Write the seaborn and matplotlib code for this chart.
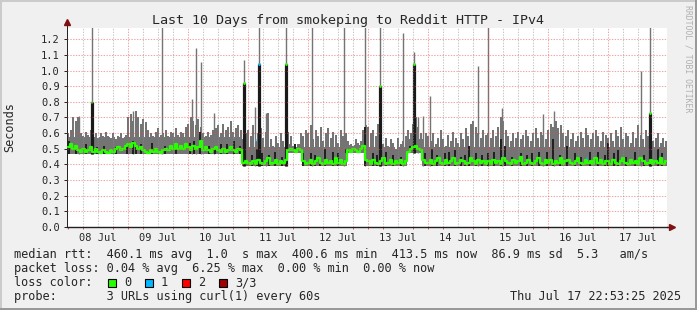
import numpy as np
import pandas as pd
import matplotlib
matplotlib.use("Agg")
import matplotlib.pyplot as plt
import matplotlib.patches as mpatches
import seaborn as sns

# ---------------- data ----------------
day_labels = ["08 Jul", "09 Jul", "10 Jul", "11 Jul", "12 Jul",
              "13 Jul", "14 Jul", "15 Jul", "16 Jul", "17 Jul"]

# hourly upper edge of the smoke (seconds), 24 values per day
smoke_top = [
    0.60, 0.62, 0.70, 0.68, 0.70, 0.60, 0.58, 0.61, 0.59, 0.62, 0.58, 0.60, 0.57, 0.60, 0.58, 0.61, 0.58, 0.57, 0.60, 0.56, 0.58, 0.60, 0.57, 0.59,
    0.70, 0.72, 0.68, 0.74, 0.70, 0.66, 0.69, 0.67, 0.62, 0.60, 0.58, 0.61, 0.63, 0.59, 0.60, 0.62, 0.58, 0.61, 0.60, 0.63, 0.59, 0.61, 0.60, 0.64,
    0.66, 0.70, 0.68, 0.65, 0.69, 0.64, 0.60, 0.58, 0.61, 0.59, 0.62, 0.63, 0.65, 0.60, 0.66, 0.62, 0.64, 0.68, 0.61, 0.63, 0.65, 0.62, 0.56, 0.60,
    0.62, 0.58, 0.65, 0.55, 0.60, 0.63, 0.57, 0.61, 0.73, 0.56, 0.52, 0.58, 0.54, 0.60, 0.55, 0.62, 0.61, 0.58, 0.52, 0.51, 0.53, 0.60, 0.58, 0.62,
    0.60, 0.65, 0.56, 0.62, 0.58, 0.64, 0.55, 0.60, 0.63, 0.57, 0.61, 0.59, 0.54, 0.62, 0.58, 0.60, 0.55, 0.53, 0.52, 0.56, 0.54, 0.55, 0.62, 0.65,
    0.64, 0.60, 0.62, 0.58, 0.66, 0.55, 0.53, 0.57, 0.52, 0.56, 0.54, 0.50, 0.57, 0.53, 0.55, 0.58, 0.62, 0.60, 0.66, 0.70, 0.64, 0.60, 0.56, 0.60,
    0.58, 0.55, 0.60, 0.53, 0.57, 0.62, 0.56, 0.52, 0.59, 0.55, 0.61, 0.57, 0.54, 0.60, 0.56, 0.63, 0.58, 0.66, 0.68, 0.64, 0.60, 0.57, 0.62, 0.59,
    0.60, 0.57, 0.62, 0.58, 0.64, 0.70, 0.68, 0.62, 0.58, 0.55, 0.60, 0.57, 0.61, 0.56, 0.59, 0.62, 0.58, 0.55, 0.60, 0.63, 0.57, 0.61, 0.59, 0.56,
    0.62, 0.66, 0.64, 0.68, 0.63, 0.65, 0.60, 0.58, 0.62, 0.56, 0.60, 0.55, 0.58, 0.61, 0.57, 0.63, 0.59, 0.56, 0.60, 0.62, 0.58, 0.55, 0.61, 0.59,
    0.57, 0.60, 0.55, 0.62, 0.58, 0.64, 0.56, 0.60, 0.58, 0.54, 0.61, 0.57, 0.65, 0.59, 0.56, 0.62, 0.58, 0.60, 0.55, 0.57, 0.60, 0.54, 0.57, 0.55,
]

# hourly median rtt (seconds), 24 values per day
median_rtt = [
    0.51, 0.53, 0.50, 0.52, 0.49, 0.48, 0.50, 0.48, 0.49, 0.51, 0.48, 0.50, 0.48, 0.47, 0.49, 0.48, 0.47, 0.49, 0.48, 0.50, 0.51, 0.49, 0.50, 0.52,
    0.53, 0.51, 0.54, 0.52, 0.50, 0.51, 0.49, 0.48, 0.47, 0.49, 0.48, 0.50, 0.48, 0.47, 0.49, 0.50, 0.49, 0.52, 0.50, 0.53, 0.50, 0.52, 0.50, 0.53,
    0.51, 0.49, 0.52, 0.50, 0.51, 0.55, 0.49, 0.51, 0.49, 0.48, 0.50, 0.51, 0.49, 0.48, 0.50, 0.48, 0.49, 0.51, 0.49, 0.48, 0.50, 0.49, 0.41, 0.42,
    0.41, 0.40, 0.42, 0.40, 0.43, 0.41, 0.40, 0.42, 0.44, 0.40, 0.41, 0.43, 0.40, 0.42, 0.41, 0.43, 0.49, 0.50, 0.49, 0.48, 0.50, 0.49, 0.42, 0.40,
    0.41, 0.43, 0.40, 0.42, 0.44, 0.41, 0.40, 0.43, 0.41, 0.42, 0.40, 0.44, 0.41, 0.43, 0.40, 0.42, 0.49, 0.48, 0.50, 0.49, 0.48, 0.50, 0.52, 0.43,
    0.42, 0.40, 0.43, 0.41, 0.40, 0.42, 0.44, 0.40, 0.41, 0.43, 0.40, 0.42, 0.41, 0.43, 0.40, 0.42, 0.48, 0.50, 0.51, 0.52, 0.50, 0.49, 0.43, 0.41,
    0.41, 0.43, 0.40, 0.42, 0.44, 0.41, 0.40, 0.43, 0.41, 0.42, 0.44, 0.40, 0.41, 0.43, 0.42, 0.40, 0.41, 0.44, 0.42, 0.40, 0.43, 0.41, 0.42, 0.40,
    0.42, 0.40, 0.43, 0.41, 0.42, 0.40, 0.44, 0.42, 0.41, 0.40, 0.43, 0.41, 0.42, 0.45, 0.40, 0.41, 0.43, 0.41, 0.40, 0.42, 0.44, 0.41, 0.40, 0.43,
    0.41, 0.43, 0.40, 0.42, 0.41, 0.44, 0.40, 0.42, 0.43, 0.41, 0.40, 0.42, 0.44, 0.41, 0.40, 0.43, 0.41, 0.42, 0.40, 0.44, 0.41, 0.43, 0.40, 0.42,
    0.42, 0.40, 0.43, 0.41, 0.40, 0.42, 0.44, 0.41, 0.40, 0.43, 0.41, 0.42, 0.40, 0.44, 0.42, 0.40, 0.41, 0.43, 0.40, 0.42, 0.41, 0.44, 0.40, 0.42,
]

# piecewise levels (day offset from 08 Jul 00:00): smoke floor and solid-band top
level_start = [-0.02, 2.89, 3.64, 3.89, 4.64, 4.93, 5.64, 5.89]
level_floor = [0.465, 0.39, 0.475, 0.39, 0.47, 0.39, 0.47, 0.39]
level_band = [0.575, 0.51, 0.53, 0.51, 0.525, 0.51, 0.56, 0.51]

# thin single-ping spikes
spike_day = [0.18, 0.395, 1.08, 1.567, 2.067, 2.133, 2.217, 2.433, 2.933, 3.117,
             3.183, 3.3, 3.633, 4.067, 4.6, 4.95, 5.2, 5.583, 5.767, 5.833,
             5.917, 6.033, 6.833, 7.0, 7.233, 7.917, 8.1, 9.55, 9.7]
spike_max = [0.71, 1.30, 0.74, 1.30, 0.815, 1.147, 1.053, 0.73, 1.07, 0.77,
             1.30, 0.73, 1.30, 1.30, 1.30, 1.30, 1.30, 1.24, 1.12, 0.70,
             0.71, 0.84, 1.03, 1.30, 0.76, 0.72, 0.74, 1.00, 1.30]

# tall dense bursts (median marker at top, loss count)
burst_day = [0.395, 2.933, 3.183, 3.633, 5.2, 5.767, 9.7]
burst_top = [0.80, 0.923, 1.04, 1.04, 0.90, 1.04, 0.73]
burst_loss = [0, 0, 1, 0, 0, 0, 0]

# short dark segments inside the smoke
dark_day = [0.017, 0.14, 0.48, 0.99, 1.09, 1.14, 1.22, 1.62, 2.03, 2.2, 2.45, 2.645,
            2.76, 2.87, 3.06, 3.145, 3.23, 3.56, 3.78, 3.92, 4.12, 4.28, 4.42, 4.64,
            4.95, 5.09, 5.42, 5.7, 6.06, 6.28, 6.45, 6.62, 6.68, 7.0, 7.22, 7.28,
            7.73, 7.98, 8.09, 8.31, 8.84, 9.0, 9.17, 9.84,
            0.3, 0.6, 0.8, 1.4, 1.8, 2.1, 2.35, 2.55, 3.35, 3.45, 4.05, 4.2,
            4.5, 5.15, 5.3, 5.55, 5.95, 6.15, 6.35, 6.55, 6.8, 6.9, 7.1, 7.4,
            7.55, 7.65, 7.85, 8.2, 8.45, 8.55, 8.7, 8.95, 9.1, 9.3, 9.45, 9.6, 9.9]
dark_top = [0.55, 0.52, 0.51, 0.54, 0.55, 0.52, 0.53, 0.52, 0.54, 0.61, 0.52, 0.53,
            0.55, 0.52, 0.46, 0.50, 0.47, 0.45, 0.53, 0.47, 0.46, 0.50, 0.48, 0.50,
            0.64, 0.47, 0.46, 0.52, 0.50, 0.47, 0.49, 0.46, 0.52, 0.47, 0.56, 0.52,
            0.47, 0.48, 0.56, 0.52, 0.48, 0.54, 0.49, 0.50,
            0.53, 0.52, 0.51, 0.54, 0.52, 0.55, 0.52, 0.53, 0.46, 0.48, 0.47, 0.45,
            0.47, 0.46, 0.48, 0.45, 0.47, 0.46, 0.48, 0.45, 0.47, 0.46, 0.48, 0.45,
            0.47, 0.46, 0.48, 0.46, 0.47, 0.45, 0.48, 0.46, 0.47, 0.45, 0.48, 0.46, 0.47]

loss1_day = [3.12, 8.64]
loss1_val = [0.555, 0.44]

y_ticks = [0.0, 0.1, 0.2, 0.3, 0.4, 0.5, 0.6, 0.7, 0.8, 0.9, 1.0, 1.1, 1.2]

title = "Last 10 Days from smokeping to Reddit HTTP - IPv4"
legend_rtt = "median rtt:  460.1 ms avg  1.0  s max  400.6 ms min  413.5 ms now  86.9 ms sd  5.3   am/s"
legend_loss = "packet loss: 0.04 % avg  6.25 % max  0.00 % min  0.00 % now"
loss_names = ["0", "1", "2", "3/3"]
loss_colors = ["#26ff00", "#00b8ff", "#ff0000", "#a00000"]
probe_text = "probe:       3 URLs using curl(1) every 60s"
stamp = "Thu Jul 17 22:53:25 2025"
watermark = "RRDTOOL / TOBI OETIKER"

# ---------------- drawing ----------------
sns.set_theme(style="white")
plt.rcParams["font.family"] = ["DejaVu Sans Mono", "DejaVu Sans"]
plt.rcParams["lines.scale_dashes"] = False

W, H = 697, 310
fig = plt.figure(figsize=(W / 100, H / 100), dpi=100, facecolor="#f0f0f0")
ax = fig.add_axes([67 / W, 1 - 227 / H, 600 / W, 199 / H])
ax.set_facecolor("white")

x0 = -1 / 60
ax.set_xlim(x0, x0 + 10)
ax.set_ylim(0, 1.272)

n = len(smoke_top)
centers = x0 + (np.arange(n) + 0.5) / 24
lev_s = np.array(level_start)


def level_at(d, arr):
    return np.array(arr)[np.searchsorted(lev_s, np.asarray(d), side="right") - 1]


bottoms = level_at(centers, level_floor)
tops = np.array(smoke_top)
band = np.minimum(level_at(centers, level_band), tops)
df = pd.DataFrame({"day": centers, "median": median_rtt})

smoke_c = "#747474"
# sparse upper smoke columns
ax.bar(centers, tops - bottoms, bottom=bottoms, width=1 / 24 * 0.72,
       color=smoke_c, linewidth=0, zorder=2)
# dense lower smoke band
ax.bar(centers, band - bottoms, bottom=bottoms, width=1 / 24 * 1.03,
       color=smoke_c, linewidth=0, zorder=2.1)
# spikes
ax.vlines(spike_day, level_at(spike_day, level_floor), spike_max, color="#747474",
          lw=1.0, zorder=2.2)
# dark segments
ax.vlines(dark_day, level_at(dark_day, level_floor), dark_top, color="#1e1e1e",
          lw=1.4, zorder=2.4)
# bursts
ax.vlines(burst_day, level_at(burst_day, level_floor), burst_top, color="#1a1a1a",
          lw=2.3, zorder=2.5)

# median line
sns.lineplot(data=df, x="day", y="median", ax=ax, color=loss_colors[0],
             lw=1.6, drawstyle="steps-mid", estimator=None, sort=False,
             legend=False, zorder=4)
bd = np.array(burst_day)
ax.hlines(burst_top, bd - 0.012, bd + 0.012,
          colors=[loss_colors[k] for k in burst_loss], lw=2.0, zorder=5)
l1 = np.array(loss1_day)
ax.hlines(loss1_val, l1 - 0.01, l1 + 0.01, colors=loss_colors[1], lw=2.0, zorder=5)

# grid on top (rrdtool style, semi-transparent)
mgrid = (0.88, 0.31, 0.31, 0.5)
grid = (0.56, 0.56, 0.56, 0.5)
dots = (0, (1.0, 1.0))
for v in y_ticks[1:]:
    ax.axhline(v, color=mgrid, lw=0.75, ls=dots, zorder=6)
for k in range(1, 40):
    if k % 4:
        ax.axvline(k / 4, color=grid, lw=0.75, ls=dots, zorder=6)
for k in range(1, 10):
    ax.axvline(k, color=mgrid, lw=0.75, ls=dots, zorder=6)

# axes
for s in ["top", "right"]:
    ax.spines[s].set_visible(False)
ax.spines["left"].set_color("#202020")
ax.spines["left"].set_linewidth(0.7)
ax.spines["bottom"].set_color("#202020")
ax.spines["bottom"].set_linewidth(1.0)
ax.plot([x0, x0], [1.272, 1.31], color="#202020", lw=0.7, clip_on=False, zorder=7)
ax.plot([x0 + 10, 10.06], [0, 0], color="#202020", lw=1.0, clip_on=False, zorder=7)
ax.plot([x0], [1.31], marker="^", color="#801010", ms=4, clip_on=False, zorder=8)
ax.plot([10.06], [0], marker=">", color="#801010", ms=4, clip_on=False, zorder=8)

ax.set_yticks(y_ticks)
ax.set_yticklabels([f"{v:.1f}" for v in y_ticks])
ax.set_xticks(np.arange(10) + 0.5)
ax.set_xticklabels(day_labels)
ax.set_xticks(np.arange(0, 10, 0.25), minor=True)
ax.tick_params(axis="y", length=2.2, width=0.7, color="#202020", pad=3,
               labelsize=7.5, left=True)
ax.tick_params(axis="x", which="major", length=0, pad=4.5, labelsize=7.5)
ax.tick_params(axis="x", which="minor", length=1.6, width=0.7,
               color=(0.88, 0.31, 0.31), bottom=True)
ax.set_xlabel("")
ax.set_ylabel("")

# texts
fs = 8.55
fig.text(348.5 / W, 1 - 24 / H, title, ha="center", va="baseline", fontsize=9.6)
fig.text(10 / W, 1 - 127.5 / H, "Seconds", rotation=90, ha="center",
         va="center", fontsize=fs)
fig.text(688 / W, 1 - 5 / H, watermark, rotation=270, ha="center", va="top",
         fontsize=5.9, color="#b0b0b0")
fig.text(14 / W, 1 - 258 / H, legend_rtt, ha="left", va="baseline", fontsize=fs)
fig.text(14 / W, 1 - 272.2 / H, legend_loss, ha="left", va="baseline", fontsize=fs)
fig.text(14 / W, 1 - 286.3 / H, "loss color:", ha="left", va="baseline", fontsize=fs)
for i, (nm, c) in enumerate(zip(loss_names, loss_colors)):
    bx = 108 + 37 * i
    fig.add_artist(mpatches.Rectangle((bx / W, 1 - 286.5 / H), 8 / W, 8 / H,
                                      transform=fig.transFigure, facecolor=c,
                                      edgecolor="black", lw=0.8))
    fig.text((bx + 16) / W, 1 - 286.3 / H, nm, ha="left", va="baseline", fontsize=fs)
fig.text(14 / W, 1 - 300 / H, probe_text, ha="left", va="baseline", fontsize=fs)
fig.text(681 / W, 1 - 300 / H, stamp, ha="right", va="baseline", fontsize=fs)

# 3D frame
fig.add_artist(mpatches.Rectangle((0, 1 - 2 / H), 1, 2 / H, transform=fig.transFigure,
                                  facecolor="#cbcbcb", lw=0))
fig.add_artist(mpatches.Rectangle((0, 0), 2 / W, 1, transform=fig.transFigure,
                                  facecolor="#cbcbcb", lw=0))
fig.add_artist(mpatches.Rectangle((0, 0), 1, 2 / H, transform=fig.transFigure,
                                  facecolor="#999999", lw=0))
fig.add_artist(mpatches.Rectangle((1 - 2 / W, 0), 2 / W, 1, transform=fig.transFigure,
                                  facecolor="#999999", lw=0))

fig.savefig("out.png", dpi=100, facecolor=fig.get_facecolor())
